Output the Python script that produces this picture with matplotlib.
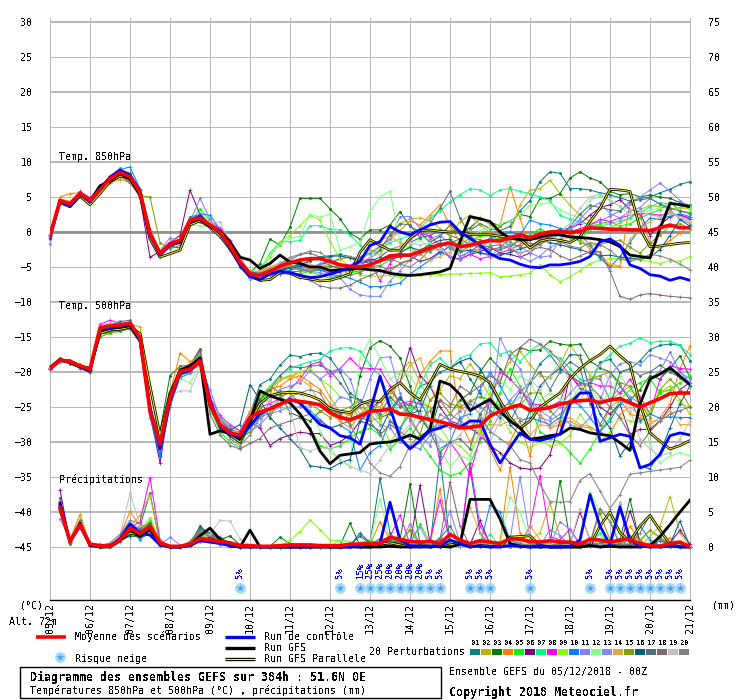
import numpy as np
import matplotlib
matplotlib.use("Agg")
import matplotlib.pyplot as plt
from matplotlib.patches import Rectangle

plt.rcParams["font.family"] = ["DejaVu Sans Mono"]
plt.rcParams["text.antialiased"] = False

STEP_H = 6
DAY_LABELS = ["05/12","06/12","07/12","08/12","09/12","10/12","11/12","12/12","13/12",
              "14/12","15/12","16/12","17/12","18/12","19/12","20/12","21/12"]

MEMBER_COLORS = ["#008080","#b8b800","#008000","#ff8000","#00ff00","#800080","#00ff80","#ff00ff",
                 "#80ff00","#0080ff","#8080ff","#80ff80","#8088ff","#e0a840","#80a000","#006080",
                 "#507080","#806870","#c0c0c0","#808080"]

# Temperature at 850 hPa (deg C), one value every 6 h
t850_mean = [-0.5,4.5,4.0,5.5,4.5,6.0,7.6,8.5,7.9,5.7,-0.2,-3.1,-1.7,-1.2,1.7,2.0,1.0,0.0,-1.9,-4.3,-6.0,
 -6.2,-5.6,-4.9,-4.4,-4.0,-3.8,-3.8,-4.2,-4.7,-4.9,-5.0,-4.7,-4.1,-3.4,-3.3,-3.3,-2.8,-2.3,-1.8,-1.6,-2.1,-1.9,
 -1.5,-1.2,-1.3,-0.8,-0.4,-0.8,-0.3,0.0,0.1,-0.1,0.1,0.6,0.5,0.4,0.4,0.3,0.3,0.2,0.6,1.0,0.6,0.6]
t850_control = [-0.8,4.4,3.7,5.4,4.3,6.2,7.8,8.8,8.1,5.9,-0.5,-3.3,-1.9,-1.4,1.5,2.2,0.9,-0.2,-2.2,-4.6,-6.4,
 -6.8,-6.0,-5.6,-5.8,-6.2,-6.5,-6.4,-6.0,-5.6,-5.0,-4.2,-1.9,-1.4,0.8,0.0,-0.4,0.3,1.0,1.4,1.5,0.0,-0.9,
 -1.9,-3.1,-3.8,-4.0,-4.6,-5.0,-5.1,-4.7,-4.7,-4.5,-4.2,-3.5,-1.4,-1.0,-1.9,-4.7,-5.2,-6.1,-6.3,-6.9,-6.5,-6.9]
t850_gfs = [-0.4,4.3,3.9,5.3,4.4,6.6,7.3,8.3,7.6,5.5,-0.1,-3.0,-1.8,-1.5,1.4,1.8,0.8,0.2,-1.4,-3.6,-4.0,
 -5.2,-4.5,-3.3,-4.3,-4.5,-5.0,-5.0,-5.5,-5.4,-5.3,-5.2,-5.4,-5.5,-5.9,-6.1,-6.2,-6.1,-5.9,-5.7,-5.2,-1.4,2.2,
 1.9,1.5,0.0,-0.9,-1.1,-1.1,-0.7,-0.4,-0.4,-0.7,-0.8,-0.9,-1.1,-1.4,-2.1,-3.3,-3.5,-3.7,0.5,4.1,3.9,3.6]
t850_para = [-0.3,4.2,3.6,5.1,3.9,5.5,7.2,8.0,7.7,5.2,-1.0,-3.6,-3.1,-2.6,1.0,1.6,0.7,-0.6,-2.4,-4.7,-6.3,
 -6.9,-6.8,-5.8,-5.9,-6.5,-6.7,-7.0,-6.9,-6.5,-6.0,-2.9,-1.1,-1.9,-2.6,-2.6,-0.9,0.2,0.3,0.1,0.0,0.0,-0.4,
 -0.4,-0.4,-0.6,-0.7,-0.9,-2.3,-1.3,-1.0,-1.2,-1.5,-0.7,1.5,3.4,6.1,6.0,5.8,0.5,-2.1,-2.0,-1.8,-1.6,-1.5]
t850_01 = [-1.0,4.3,3.8,5.2,4.7,6.3,7.8,9.0,8.2,5.4,-0.8,-3.3,-2.0,-1.0,2.2,2.4,1.3,0.2,-2.1,-4.6,-6.5,
 -6.8,-5.9,-5.6,-5.0,-4.6,-4.2,-3.5,-3.4,-3.2,-3.5,-3.9,-4.2,-3.6,-2.5,-2.0,-1.5,-0.8,-0.5,0.3,-0.5,-1.0,0.2,
 1.2,0.5,0.2,0.8,3.0,4.5,7.2,8.6,8.4,6.2,6.2,6.0,5.6,5.3,4.9,4.4,4.8,5.0,5.6,6.1,6.8,7.2]
t850_02 = [-0.5,4.7,4.4,5.4,4.2,5.7,7.2,8.0,7.5,5.2,0.4,-2.7,-1.5,-1.3,1.2,1.6,0.7,-0.3,-1.6,-4.0,-5.6,
 -6.0,-5.2,-4.8,-4.6,-5.3,-5.6,-5.0,-4.8,-5.2,-5.8,-3.8,-2.5,-3.2,-1.0,1.2,1.9,2.0,1.6,0.5,-0.6,1.5,2.4,
 1.0,-0.1,-0.8,0.0,3.8,6.0,6.2,7.4,5.5,3.8,2.4,1.5,0.8,0.6,1.3,2.0,3.2,3.8,3.6,3.3,3.5,3.3]
t850_03 = [-0.7,4.6,4.1,5.7,4.6,6.0,7.7,8.6,7.8,5.6,-0.4,-3.2,-2.0,-2.3,1.1,2.2,0.9,0.1,-2.0,-4.5,-5.8,
 -4.5,-1.0,-1.9,0.7,4.8,4.8,4.8,3.3,1.9,-0.2,-1.0,0.3,0.3,1.0,2.9,0.8,0.0,-1.5,-0.6,1.0,-0.3,0.6,
 1.9,1.4,0.9,1.6,2.5,2.2,4.8,4.8,5.5,7.7,8.6,7.7,7.2,5.8,5.3,5.5,5.0,5.3,5.0,4.8,4.2,3.8]
t850_04 = [-0.6,5.0,5.5,5.6,4.8,5.8,7.0,7.6,7.0,5.3,-0.2,-3.3,-1.6,-1.0,1.9,2.5,1.4,0.5,-1.3,-3.9,-5.6,
 -5.8,-5.0,-4.8,-4.5,-4.3,-4.6,-5.2,-5.6,-5.8,-5.5,-4.0,-3.0,-2.2,-1.0,0.2,1.6,1.0,2.4,3.9,0.8,-1.4,-2.9,
 -2.5,-1.0,1.0,6.5,2.0,-2.6,-1.2,-0.5,0.5,-0.4,-0.9,-2.5,-3.6,-4.8,-5.0,4.3,2.2,-1.4,-2.5,-1.2,-0.2,1.0]
t850_05 = [-0.4,4.4,4.2,5.5,4.4,6.1,7.9,8.7,8.0,5.8,0.1,-2.8,-1.6,-1.1,1.4,3.3,1.6,0.0,-2.1,-4.6,-6.1,
 -6.4,-5.5,-5.2,-5.8,-6.0,-5.6,-6.2,-6.6,-6.2,-5.9,-5.5,-5.0,-4.8,-4.0,-3.0,-2.0,-3.2,-1.6,-3.0,-2.0,-2.6,-1.2,
 -0.6,-0.5,-1.2,-2.0,-1.0,-0.4,0.5,-0.3,0.0,-0.9,-1.2,0.5,1.2,1.5,0.8,1.2,2.0,2.6,3.2,4.3,3.0,2.8]
t850_06 = [-0.8,4.5,3.9,5.6,4.5,6.2,7.5,8.3,7.4,5.0,-3.6,-2.8,-1.5,-0.5,6.0,2.5,1.2,0.4,-1.8,-4.2,-6.2,
 -6.1,-5.9,-5.4,-5.0,-4.8,-5.3,-4.6,-4.4,-3.8,-3.6,-4.5,-3.8,-4.2,-3.9,-3.5,-3.4,-4.2,-3.8,-2.8,-3.5,-3.9,-3.2,
 -2.8,-2.2,-3.0,-3.2,-3.6,-3.0,-1.5,-0.6,-0.2,0.5,1.2,2.4,3.5,3.9,4.6,3.2,2.8,-0.5,1.0,2.2,2.5,1.8]
t850_07 = [-0.6,4.3,4.0,5.3,4.2,5.9,7.6,8.4,7.7,5.6,-0.6,-3.0,-1.8,-1.4,1.3,1.8,0.8,-0.4,-2.0,-4.4,-5.9,
 -5.5,-3.0,-1.4,-1.4,-1.2,0.9,0.9,0.4,0.3,-0.4,-1.9,-3.3,-2.5,-1.5,-1.0,-0.5,0.5,2.0,3.0,4.3,5.3,6.2,
 6.0,5.2,6.0,6.2,5.8,5.5,5.0,4.5,2.4,1.8,1.5,1.0,0.8,1.2,1.6,2.0,2.8,3.6,4.2,4.0,3.8,3.7]
t850_08 = [-0.5,4.6,4.2,5.8,4.9,6.4,8.0,8.6,7.9,5.5,0.0,-2.9,-1.4,-1.3,1.6,2.1,1.1,0.6,-1.2,-3.5,-6.3,
 -6.5,-6.2,-6.0,-5.7,-5.6,-5.2,-5.4,-5.8,-5.5,-5.2,-4.6,-4.0,-7.0,-4.5,-3.0,-1.0,-0.2,-0.5,-2.0,-3.6,-3.9,-3.2,
 -3.8,-3.5,-3.0,-2.5,-1.8,-0.8,-0.9,-0.6,-0.2,0.0,0.5,1.0,1.8,1.5,2.0,2.4,2.6,2.6,2.4,2.6,2.3,2.1]
t850_09 = [-0.4,4.5,4.1,5.5,4.7,5.9,7.4,8.4,7.9,5.6,0.3,-2.9,-1.7,-1.3,1.2,2.0,1.5,-0.3,-2.0,-4.1,-5.9,
 -6.0,-3.5,-1.4,-0.5,0.9,2.4,1.7,-1.4,-3.8,-5.0,-6.2,-6.3,-6.3,-6.2,-6.4,-6.2,-6.2,-6.1,-6.1,-6.0,-6.0,-5.9,
 -5.9,-5.8,-6.4,-6.3,-6.1,-5.9,-4.7,-6.1,-7.1,-6.4,-5.5,-4.5,-4.0,-3.8,-3.8,-3.9,-4.0,-4.2,-4.5,-4.1,-4.2,-3.5]
t850_10 = [-0.6,4.4,4.0,5.5,4.7,6.0,7.7,8.9,9.3,6.2,-0.9,-3.2,-1.6,-1.0,1.8,2.6,2.4,0.4,-2.0,-4.5,-6.6,
 -6.5,-5.8,-6.0,-5.4,-5.2,-5.6,-5.4,-6.0,-6.3,-6.6,-7.2,-7.8,-7.8,-7.6,-7.3,-6.0,-5.0,-4.0,-3.0,-2.0,-3.5,-2.8,
 -1.8,-0.9,-0.5,0.0,-0.4,1.7,1.2,1.0,0.5,0.4,-0.2,-2.0,-3.7,-5.0,-3.5,-1.5,0.5,2.0,1.8,2.3,2.6,2.2]
t850_11 = [-1.7,4.2,3.8,5.3,4.4,6.1,7.4,8.2,7.6,5.6,-0.3,-2.7,-0.8,-1.4,1.5,4.8,1.8,0.5,-2.3,-5.0,-6.7,
 -6.0,-5.3,-4.6,-4.2,-4.8,-5.2,-4.5,-4.2,-4.6,-4.8,-3.5,-3.0,-2.0,-1.0,2.2,2.2,0.5,-1.0,-0.4,-1.8,-3.5,-2.8,
 -3.0,-3.4,-2.4,-1.9,-2.0,-3.0,-3.6,-3.4,-1.0,0.3,1.5,1.0,1.5,2.3,3.0,4.0,5.0,6.0,7.0,5.8,4.5,3.4]
t850_12 = [-0.4,4.5,4.1,5.6,4.0,5.6,7.6,8.2,7.7,5.5,-0.1,-2.9,-1.5,-1.2,1.0,0.9,0.7,-0.1,-2.1,-4.2,-5.7,
 -5.2,-3.2,-1.8,-0.9,-0.6,2.6,2.1,2.6,-2.6,-2.1,-1.4,2.9,5.0,5.8,-1.4,-2.2,-1.0,-2.5,-2.0,-1.5,-1.2,-0.8,
 0.2,0.6,1.2,1.6,2.5,3.8,4.0,4.2,3.2,2.5,2.0,4.5,5.2,4.6,3.6,2.5,2.8,3.0,3.5,4.2,3.8,3.4]
t850_13 = [-0.5,4.4,3.9,5.4,4.5,6.0,7.7,8.7,8.1,5.9,-0.3,-3.0,-1.6,-1.0,1.7,2.3,1.2,0.3,-1.7,-4.0,-5.8,
 -6.4,-5.8,-5.0,-4.8,-5.0,-5.6,-5.8,-6.2,-6.5,-8.2,-9.0,-9.2,-9.2,-7.0,-5.5,-4.0,-3.2,-2.0,-2.6,-3.6,-4.0,-2.6,
 -2.4,-1.0,-0.4,-2.0,-3.5,-4.2,-3.4,-2.2,-1.4,0.6,1.8,3.4,4.2,2.6,2.0,3.0,3.5,4.8,4.0,3.2,1.8,1.2]
t850_14 = [-0.6,4.7,4.3,5.2,4.3,5.6,7.0,7.5,7.3,5.3,-0.5,-3.2,-1.8,-1.3,1.3,1.7,0.9,-0.1,-1.9,-4.3,-6.0,
 -5.5,-5.0,-4.4,-4.1,-4.6,-5.3,-5.0,-4.5,-3.9,-3.5,-4.2,-2.2,-1.2,-0.6,-1.5,-2.5,-3.2,-4.0,-3.5,-2.8,-1.6,0.2,
 2.1,1.0,0.2,-0.8,-1.4,-2.0,-1.6,-0.9,-1.2,-0.7,-0.5,-1.8,-3.2,-4.6,-4.8,-1.0,0.4,1.5,2.1,2.9,2.0,1.5]
t850_15 = [-0.7,4.3,4.0,5.5,4.6,5.7,7.3,8.1,7.4,5.2,5.0,-1.5,-2.4,-1.9,1.1,1.5,0.6,-0.7,-2.6,-4.8,-6.1,
 -6.3,-6.0,-5.2,-4.9,-5.5,-5.7,-5.1,-4.9,-5.0,-5.4,-5.8,-4.8,-4.0,-3.8,-4.4,-4.0,-3.0,-2.8,-2.0,-1.2,-1.8,-0.9,
 -1.1,-1.6,-0.8,-1.4,-2.2,-1.0,-0.3,-0.4,-0.1,0.2,-1.5,-1.9,-1.8,-1.4,-1.2,-2.2,-3.0,-1.6,-0.4,0.8,1.2,0.5]
t850_16 = [-0.4,4.6,4.2,5.7,4.8,6.1,7.9,8.9,8.4,6.0,0.2,-3.4,-2.1,-1.5,1.9,2.3,0.8,-0.4,-2.4,-5.0,-6.5,
 -6.6,-6.1,-5.5,-5.2,-4.9,-4.0,-3.7,-3.5,-3.4,-3.7,-4.1,-4.5,-4.0,-3.6,-3.0,-2.2,-2.6,-1.8,-1.2,-1.0,-2.8,-2.6,
 -3.0,-3.2,-3.3,-2.9,-2.4,-2.0,-1.2,-1.5,-1.8,-2.2,-2.5,-3.0,-3.4,-3.3,-3.6,-3.7,-3.9,-3.6,-2.5,-0.5,1.8,0.8]
t850_17 = [-0.6,4.4,3.9,5.4,4.5,6.3,8.0,9.1,8.0,5.8,-0.6,-3.3,-1.9,-1.1,1.8,2.1,1.1,0.2,-1.8,-3.9,-5.7,
 -5.9,-5.3,-4.8,-4.0,-3.2,-3.0,-3.6,-4.8,-5.2,-5.5,-4.8,-3.8,-2.6,-0.4,1.2,1.0,-0.8,1.2,3.4,5.8,2.0,-0.5,
 -1.8,-2.6,-2.2,-1.0,-0.5,-0.8,-1.2,-0.9,-0.4,0.8,2.6,3.8,3.5,3.2,3.0,4.4,4.6,4.8,4.0,3.4,3.0,2.6]
t850_18 = [-0.5,4.5,4.0,5.3,4.3,5.8,7.1,7.9,7.3,5.3,0.0,-3.0,-1.7,-1.2,1.6,1.9,1.0,-0.2,-1.7,-4.1,-5.8,
 -6.2,-6.0,-5.5,-5.8,-6.5,-6.9,-7.7,-8.0,-8.0,-7.6,-6.8,-6.2,-5.6,-5.2,-4.6,-4.0,-3.0,-2.5,-2.0,-1.5,-1.0,-1.8,
 -2.2,-2.0,-1.8,-2.4,-3.0,-2.6,-2.2,-2.5,-3.4,-4.0,-3.4,-2.8,-2.8,-5.6,-9.2,-9.6,-9.0,-8.8,-9.0,-9.2,-9.3,-9.4]
t850_19 = [-0.6,4.6,4.1,5.4,4.6,6.1,7.5,8.3,7.8,5.9,0.1,-3.2,-1.8,-1.0,1.9,2.2,1.5,1.4,-1.4,-3.8,-6.6,
 -6.3,-5.4,-4.3,-3.9,-4.2,-4.7,-4.8,-4.4,-4.9,-5.2,-4.5,-3.5,-3.2,-2.6,-2.0,-1.5,-1.9,-1.5,-2.4,-3.1,-2.2,-1.4,
 -1.8,-1.4,-1.2,-2.2,-2.9,-2.6,-1.8,-1.0,0.0,1.2,3.4,5.0,5.4,4.5,3.7,3.2,3.0,2.4,2.2,2.6,2.2,1.6]
t850_20 = [-0.5,4.4,3.8,5.5,4.4,6.0,7.4,8.1,7.0,5.1,-0.9,-3.5,-2.1,-1.5,1.3,1.8,1.1,-0.1,-2.2,-4.4,-5.9,
 -6.0,-5.7,-4.6,-3.6,-3.2,-2.7,-2.9,-3.9,-5.2,-6.2,-5.8,-5.0,-4.8,-5.6,-4.6,-5.0,-4.0,-2.5,-1.5,-2.4,-2.8,-2.0,
 -1.8,-2.2,-2.6,-2.0,-1.2,-1.6,-1.8,-1.0,-1.4,-2.0,-2.3,-1.5,-1.8,-2.6,-3.8,-4.2,-3.8,-3.2,-3.4,-3.9,-4.6,-5.4]

# Temperature at 500 hPa (deg C), one value every 6 h
t500_mean = [-19.5,-18.3,-18.5,-19.1,-19.6,-13.7,-13.4,-13.3,-13.0,-15.1,-25.6,-30.3,-23.7,-19.9,-19.6,-18.4,-24.6,-27.5,-28.7,-29.0,-26.5,
 -25.7,-25.3,-24.6,-24.0,-24.2,-24.4,-24.7,-25.8,-26.5,-26.8,-26.3,-25.6,-25.5,-25.3,-26.0,-26.1,-26.5,-26.8,-27.1,-27.5,-28.0,-27.9,
 -27.7,-26.3,-25.6,-25.1,-24.7,-25.5,-25.3,-25.1,-24.6,-24.3,-24.1,-24.0,-24.4,-24.0,-23.8,-24.4,-25.0,-24.4,-23.8,-23.1,-23.0,-23.0]
t500_control = [-19.6,-18.4,-18.4,-19.2,-19.8,-13.9,-13.6,-13.5,-13.2,-15.4,-25.0,-31.0,-24.2,-20.2,-19.8,-18.2,-24.0,-27.8,-28.9,-29.2,-27.7,
 -26.0,-25.2,-24.6,-23.9,-24.4,-26.0,-27.5,-28.0,-29.1,-29.4,-30.3,-25.6,-20.6,-25.1,-29.4,-31.0,-29.8,-28.4,-28.0,-27.4,-27.9,-27.0,
 -27.0,-30.3,-33.0,-30.8,-28.7,-29.6,-29.8,-29.4,-28.9,-24.6,-23.0,-23.0,-29.9,-29.4,-28.9,-29.2,-33.7,-33.2,-31.8,-29.1,-28.7,-29.0]
t500_gfs = [-19.4,-18.2,-18.6,-19.2,-19.9,-14.1,-13.8,-13.6,-13.4,-15.5,-25.3,-30.5,-23.4,-19.7,-19.2,-18.0,-28.9,-28.4,-28.8,-29.6,-27.0,
 -22.7,-23.4,-23.9,-24.4,-26.0,-28.2,-31.3,-33.1,-31.9,-31.7,-31.5,-30.3,-30.1,-30.0,-29.6,-29.0,-29.6,-28.2,-21.3,-21.8,-23.2,-25.5,
 -24.7,-23.9,-25.6,-27.0,-28.0,-29.6,-29.4,-29.1,-28.9,-28.0,-28.2,-28.7,-28.9,-29.1,-30.1,-31.2,-24.6,-21.0,-20.3,-19.4,-20.6,-21.8]
t500_para = [-19.4,-18.3,-18.7,-19.3,-19.4,-14.5,-14.0,-13.9,-13.6,-14.5,-22.0,-29.0,-23.0,-20.0,-19.0,-18.5,-24.8,-27.6,-29.0,-30.0,-27.2,
 -24.5,-23.4,-23.0,-22.9,-23.0,-23.4,-24.0,-25.2,-25.6,-25.8,-24.6,-24.1,-24.2,-22.5,-21.5,-23.0,-24.0,-21.5,-18.9,-19.6,-19.9,-20.2,
 -20.6,-21.5,-24.1,-26.5,-28.0,-27.0,-25.0,-24.0,-23.0,-21.0,-19.5,-18.4,-17.5,-16.3,-17.7,-18.9,-24.6,-28.7,-29.9,-31.0,-30.5,-29.8]
t500_01 = [-19.2,-18.0,-18.8,-19.4,-19.8,-14.2,-14.3,-13.8,-13.0,-15.5,-26.0,-32.0,-24.5,-20.5,-20.0,-17.5,-25.0,-28.0,-29.2,-30.0,-26.0,
 -21.8,-21.0,-19.0,-17.6,-17.8,-17.4,-17.3,-18.0,-20.0,-23.0,-24.0,-24.6,-26.5,-26.0,-23.8,-25.0,-22.0,-21.5,-20.0,-19.5,-18.5,-21.0,
 -23.0,-25.5,-26.5,-25.0,-22.8,-21.5,-18.8,-17.5,-19.5,-20.5,-21.5,-22.0,-18.6,-18.2,-20.0,-19.6,-18.4,-16.8,-16.2,-16.0,-16.2,-18.4]
t500_02 = [-19.5,-18.4,-18.6,-19.0,-19.4,-13.4,-13.0,-13.3,-13.2,-13.5,-22.0,-29.5,-22.8,-19.5,-19.2,-18.6,-23.8,-26.8,-28.0,-28.8,-26.2,
 -23.0,-22.8,-21.0,-20.8,-20.0,-19.8,-21.0,-23.6,-25.8,-26.2,-25.0,-27.0,-26.5,-25.2,-20.0,-18.5,-21.5,-24.0,-22.5,-20.5,-21.0,-18.8,
 -21.0,-23.5,-21.0,-18.5,-17.0,-19.0,-20.5,-20.8,-19.0,-16.0,-18.2,-20.5,-21.0,-24.0,-23.0,-22.0,-24.8,-25.8,-23.0,-22.0,-24.0,-26.0]
t500_03 = [-19.3,-18.2,-18.5,-19.2,-19.5,-14.5,-14.4,-14.2,-13.8,-15.8,-25.4,-28.5,-20.5,-19.2,-19.0,-16.7,-24.2,-27.0,-28.4,-29.3,-26.8,
 -24.0,-22.0,-23.0,-25.8,-26.4,-27.0,-25.6,-25.0,-26.0,-27.5,-20.5,-16.5,-15.5,-16.3,-18.0,-22.0,-26.5,-28.5,-24.0,-26.0,-24.0,-23.0,
 -20.0,-18.0,-19.5,-21.0,-16.5,-17.0,-16.8,-15.6,-16.0,-16.2,-16.0,-18.4,-19.4,-20.0,-22.0,-24.0,-22.5,-20.5,-21.0,-19.5,-17.7,-20.8]
t500_04 = [-19.4,-18.3,-18.4,-19.1,-19.7,-13.9,-13.5,-13.2,-13.3,-14.8,-25.0,-31.0,-23.0,-17.3,-18.5,-18.0,-24.5,-27.0,-28.2,-28.6,-25.5,
 -23.5,-22.5,-22.0,-21.0,-20.5,-21.5,-22.5,-24.5,-27.0,-26.0,-25.0,-25.5,-24.0,-27.0,-28.5,-24.5,-20.5,-18.5,-17.0,-17.0,-27.0,-30.0,
 -28.0,-31.0,-34.0,-30.0,-27.0,-32.0,-26.0,-28.0,-27.5,-27.0,-27.8,-28.0,-28.5,-25.0,-24.0,-26.0,-26.5,-27.5,-26.5,-24.5,-19.5,-16.3]
t500_05 = [-19.5,-18.2,-18.7,-19.4,-19.9,-14.0,-13.7,-13.7,-13.4,-15.2,-25.2,-30.0,-23.3,-19.8,-19.3,-17.9,-25.2,-28.5,-30.0,-30.8,-27.5,
 -24.0,-23.2,-23.4,-24.5,-26.0,-28.0,-30.5,-31.0,-30.5,-29.5,-28.5,-28.0,-29.0,-31.0,-29.5,-28.0,-30.0,-32.0,-34.0,-34.8,-34.4,-33.0,
 -30.0,-27.0,-23.0,-19.5,-22.0,-25.0,-28.5,-29.5,-30.0,-31.5,-33.0,-31.0,-28.5,-26.5,-24.0,-22.5,-21.5,-21.0,-23.0,-22.5,-21.5,-20.5]
t500_06 = [-19.6,-18.5,-18.4,-19.3,-19.7,-14.2,-13.9,-13.4,-13.1,-15.0,-26.0,-33.0,-24.0,-20.3,-20.0,-18.8,-24.8,-27.4,-28.5,-29.4,-27.2,
 -28.0,-30.5,-29.5,-29.0,-28.6,-28.8,-28.8,-30.5,-30.0,-29.0,-27.0,-25.5,-24.0,-23.0,-21.5,-16.5,-20.5,-22.0,-25.0,-27.0,-27.5,-28.0,
 -29.0,-30.5,-31.5,-33.0,-33.7,-33.9,-33.7,-31.8,-27.0,-20.4,-22.3,-23.0,-25.0,-26.0,-24.6,-28.9,-28.2,-28.2,-27.0,-25.0,-22.5,-21.5]
t500_07 = [-19.5,-18.4,-18.5,-19.0,-19.6,-13.8,-13.4,-13.4,-13.3,-15.4,-25.5,-30.5,-23.5,-20.0,-19.5,-18.2,-24.4,-26.5,-27.8,-28.4,-26.0,
 -25.0,-22.0,-20.5,-19.5,-19.0,-18.5,-18.2,-17.0,-16.6,-16.5,-17.0,-19.0,-20.5,-24.0,-26.0,-25.0,-22.0,-19.0,-18.0,-19.5,-18.0,-17.5,
 -16.0,-15.8,-17.5,-17.0,-18.5,-17.0,-16.0,-17.5,-18.0,-19.5,-21.0,-21.5,-19.0,-17.5,-16.3,-15.9,-15.1,-15.8,-15.6,-15.6,-16.2,-17.5]
t500_08 = [-19.4,-18.3,-18.7,-19.2,-19.7,-13.2,-12.6,-13.1,-13.2,-15.0,-25.6,-31.2,-24.0,-20.1,-19.4,-17.8,-23.6,-26.2,-27.5,-28.4,-25.8,
 -25.0,-24.5,-23.8,-22.5,-21.0,-19.0,-18.5,-20.5,-19.5,-18.0,-19.4,-19.5,-19.6,-22.0,-24.5,-24.2,-24.5,-25.0,-33.0,-30.0,-32.0,-34.6,
 -29.4,-24.0,-20.0,-21.0,-22.5,-24.5,-24.7,-24.9,-24.2,-20.5,-22.0,-21.5,-22.0,-22.0,-23.0,-21.0,-23.5,-26.0,-21.0,-19.1,-19.5,-19.6]
t500_09 = [-19.5,-18.4,-18.3,-18.9,-19.5,-14.0,-13.8,-13.0,-13.4,-15.6,-26.0,-31.0,-23.6,-20.5,-19.9,-17.2,-25.0,-27.5,-28.8,-29.8,-26.4,
 -23.5,-22.0,-21.2,-20.5,-20.0,-19.5,-21.0,-22.0,-23.5,-24.0,-26.0,-25.0,-27.0,-30.0,-28.0,-25.5,-24.0,-25.0,-28.0,-30.0,-30.5,-32.0,
 -28.5,-23.0,-26.0,-28.5,-30.0,-30.8,-30.0,-30.5,-30.2,-29.0,-26.0,-28.0,-30.0,-28.5,-26.5,-27.0,-27.2,-25.5,-22.5,-23.0,-24.5,-25.0]
t500_10 = [-19.6,-18.1,-18.6,-19.1,-19.8,-13.9,-13.5,-13.6,-13.5,-15.3,-26.5,-32.0,-25.0,-20.8,-20.2,-18.3,-24.2,-27.2,-28.6,-30.0,-28.0,
 -26.5,-25.0,-24.5,-24.0,-24.5,-25.5,-26.8,-28.0,-27.6,-28.5,-34.0,-31.5,-30.5,-27.0,-28.0,-26.0,-24.0,-27.0,-31.0,-30.0,-26.5,-26.0,
 -22.5,-20.0,-22.0,-24.5,-27.0,-26.5,-27.0,-27.5,-26.5,-24.0,-24.8,-26.5,-28.5,-27.0,-24.5,-23.8,-27.0,-26.0,-26.6,-26.4,-26.5,-26.5]
t500_11 = [-19.3,-18.5,-18.5,-19.3,-19.6,-13.6,-13.4,-12.7,-13.1,-15.2,-25.4,-30.2,-23.2,-20.0,-20.0,-19.0,-22.5,-26.5,-28.0,-29.5,-28.5,
 -27.5,-24.0,-22.5,-22.0,-21.5,-19.8,-21.0,-20.0,-19.5,-21.0,-25.0,-21.0,-18.0,-17.8,-23.0,-27.0,-29.0,-30.5,-26.0,-27.0,-25.5,-24.5,
 -26.0,-28.5,-26.0,-24.0,-22.5,-24.0,-25.5,-26.5,-25.0,-23.0,-21.5,-21.0,-21.0,-24.0,-22.0,-23.5,-24.5,-21.0,-19.8,-17.2,-20.0,-21.5]
t500_12 = [-19.4,-18.4,-18.7,-19.4,-20.0,-14.8,-14.6,-14.0,-13.4,-15.0,-25.0,-29.8,-22.6,-21.0,-21.5,-19.0,-25.0,-27.6,-28.6,-29.2,-26.5,
 -26.0,-25.0,-24.0,-22.5,-23.0,-25.0,-28.5,-31.5,-32.5,-33.5,-18.0,-15.3,-18.0,-21.0,-20.0,-20.5,-23.0,-26.5,-31.0,-33.5,-32.0,-32.5,
 -25.0,-22.0,-21.0,-22.5,-20.5,-21.5,-24.0,-23.0,-23.8,-24.5,-22.0,-22.0,-24.5,-23.0,-20.5,-22.5,-24.0,-30.5,-33.0,-32.0,-31.5,-32.0]
t500_13 = [-19.5,-18.3,-18.4,-19.1,-19.7,-13.7,-13.3,-13.1,-13.0,-15.1,-25.5,-31.0,-24.0,-20.2,-19.7,-17.5,-24.5,-27.3,-28.7,-29.5,-27.0,
 -27.5,-26.0,-25.5,-25.0,-25.0,-24.8,-24.5,-25.5,-23.5,-24.0,-27.0,-26.0,-27.5,-28.0,-30.0,-30.5,-31.0,-29.0,-27.5,-28.0,-27.5,-24.0,
 -25.0,-26.0,-15.1,-18.0,-19.5,-24.0,-26.5,-27.0,-26.0,-27.5,-28.0,-26.5,-24.0,-20.5,-18.8,-18.5,-19.0,-17.5,-18.0,-18.5,-20.0,-21.0]
t500_14 = [-19.5,-18.2,-18.5,-19.2,-19.5,-14.0,-13.7,-13.6,-13.5,-15.4,-25.8,-29.0,-23.0,-19.4,-19.0,-18.5,-24.7,-27.6,-28.9,-29.1,-25.6,
 -24.0,-24.2,-21.0,-20.5,-21.0,-22.0,-24.5,-26.0,-27.0,-28.0,-26.0,-24.5,-25.0,-23.0,-21.5,-19.0,-18.0,-22.0,-24.0,-26.0,-24.5,-27.0,
 -28.0,-27.5,-27.6,-27.0,-26.5,-29.0,-27.5,-27.8,-27.0,-26.5,-27.5,-27.8,-28.8,-29.2,-26.0,-25.0,-26.2,-27.0,-27.0,-25.5,-27.5,-27.5]
t500_15 = [-19.4,-18.5,-18.6,-19.3,-19.8,-15.0,-14.4,-14.0,-13.8,-15.6,-26.2,-30.6,-23.8,-20.5,-19.5,-17.0,-24.9,-27.9,-28.8,-29.7,-28.5,
 -25.0,-26.5,-23.5,-23.0,-24.5,-24.5,-25.5,-26.5,-25.5,-25.0,-24.0,-26.5,-24.0,-22.5,-24.5,-26.5,-29.0,-24.0,-23.0,-24.5,-25.0,-24.2,
 -23.5,-24.0,-25.0,-24.5,-24.8,-23.0,-23.0,-25.5,-27.0,-24.0,-23.0,-21.0,-20.5,-20.0,-21.5,-22.0,-24.5,-26.5,-22.5,-21.0,-22.5,-25.0]
t500_16 = [-19.6,-18.3,-18.6,-19.0,-19.7,-14.3,-13.8,-13.2,-13.1,-15.2,-25.6,-29.6,-23.0,-20.1,-19.6,-18.6,-24.4,-27.0,-28.3,-27.5,-21.8,
 -24.0,-26.5,-28.0,-29.5,-31.0,-33.4,-33.6,-33.8,-33.0,-32.5,-27.0,-27.5,-28.5,-25.5,-23.5,-26.0,-25.5,-22.0,-19.0,-19.5,-18.5,-18.0,
 -19.5,-22.0,-24.5,-27.5,-29.0,-25.5,-22.0,-20.5,-19.5,-17.5,-17.6,-22.5,-26.0,-28.0,-32.0,-30.0,-33.5,-33.8,-31.5,-28.0,-24.5,-22.0]
t500_17 = [-19.5,-18.1,-18.4,-19.2,-19.5,-13.8,-13.4,-12.8,-12.6,-15.0,-25.3,-30.4,-23.6,-19.7,-19.3,-18.2,-25.0,-28.0,-28.9,-29.3,-26.8,
 -24.0,-22.5,-20.5,-19.2,-19.4,-19.2,-19.0,-19.8,-21.5,-23.5,-24.0,-25.0,-26.0,-23.5,-25.0,-24.5,-26.0,-28.5,-31.5,-30.0,-29.5,-31.0,
 -26.0,-24.0,-25.5,-27.0,-24.5,-21.5,-20.0,-22.5,-20.0,-18.5,-19.5,-24.5,-27.5,-25.0,-20.0,-19.5,-20.5,-20.0,-19.0,-20.0,-20.8,-22.0]
t500_18 = [-19.4,-18.4,-18.7,-19.5,-20.1,-14.4,-14.0,-13.8,-13.2,-15.3,-25.7,-30.6,-24.0,-20.4,-19.9,-16.8,-26.0,-29.0,-30.5,-31.0,-30.2,
 -29.5,-28.0,-27.5,-27.0,-26.5,-26.0,-27.0,-28.0,-27.5,-27.0,-26.5,-27.0,-29.0,-27.5,-28.5,-29.5,-27.0,-25.5,-24.0,-25.0,-22.0,-23.0,
 -22.0,-20.5,-21.5,-17.5,-16.5,-15.3,-16.0,-17.0,-18.5,-20.5,-21.5,-22.0,-23.5,-25.0,-26.5,-29.0,-30.5,-28.5,-27.0,-26.0,-25.5,-25.0]
t500_19 = [-19.6,-18.6,-18.5,-19.2,-19.6,-13.5,-13.1,-13.3,-13.4,-14.9,-24.8,-29.4,-23.4,-22.7,-22.7,-19.4,-23.9,-27.0,-28.6,-28.8,-26.5,
 -24.5,-24.0,-25.0,-25.5,-30.8,-31.3,-30.8,-31.0,-32.5,-33.5,-34.0,-34.5,-32.5,-30.5,-29.0,-27.5,-26.0,-28.0,-29.5,-30.5,-29.0,-27.0,
 -29.0,-30.0,-27.0,-25.0,-23.5,-21.0,-22.5,-20.5,-18.5,-21.5,-24.5,-20.5,-19.0,-21.5,-23.5,-25.5,-29.5,-31.0,-32.0,-31.5,-29.5,-27.0]
t500_20 = [-19.5,-18.2,-18.5,-19.3,-19.9,-14.1,-13.6,-13.4,-13.3,-15.2,-25.5,-30.8,-23.8,-20.0,-19.6,-17.9,-24.6,-27.7,-29.5,-30.5,-29.0,
 -26.5,-25.8,-25.0,-23.5,-23.0,-22.5,-23.0,-25.5,-26.0,-27.5,-30.0,-33.0,-34.4,-34.9,-33.5,-30.5,-29.0,-28.5,-27.0,-26.0,-27.0,-28.0,
 -26.5,-28.5,-29.5,-30.5,-32.5,-33.0,-36.0,-38.5,-38.6,-38.5,-35.5,-34.5,-37.0,-39.5,-37.5,-34.6,-34.4,-34.2,-34.0,-33.8,-33.6,-32.6]

# Precipitation (mm), one value every 6 h from the first step on
rr_mean = [5.6,0.8,3.2,0.4,0.2,0.1,1.0,2.7,1.9,3.0,0.6,0.1,0.1,0.4,1.2,1.0,0.8,0.6,0.2,0.2,
 0.1,0.1,0.2,0.3,0.3,0.3,0.2,0.2,0.2,0.4,0.4,0.5,0.5,1.4,1.1,0.8,0.7,0.8,0.5,1.8,1.0,0.5,
 0.9,0.7,0.5,1.2,1.1,0.8,0.7,0.9,0.7,0.7,0.4,1.1,1.0,0.7,1.0,1.1,0.5,0.2,0.1,0.5,0.7,0.0]
rr_control = [6.0,0.8,3.0,0.3,0.0,0.1,1.2,3.3,2.0,1.7,0.3,0.0,0.0,0.2,0.9,0.7,0.5,0.2,0.0,0.0,
 0.0,0.0,0.0,0.0,0.0,0.0,0.0,0.0,0.0,0.0,0.2,0.4,0.5,6.4,1.0,0.2,0.1,0.1,0.2,1.0,0.5,0.1,
 0.1,0.0,0.0,0.2,0.1,0.0,0.2,0.0,0.0,0.1,1.0,7.5,3.0,0.3,5.7,1.0,0.1,0.0,0.0,0.1,0.0,0.0]
rr_gfs = [6.2,0.7,3.4,0.2,0.0,0.0,0.9,2.5,1.5,2.6,0.4,0.0,0.0,0.3,1.6,2.7,1.1,0.1,0.0,2.4,
 0.0,0.0,0.0,0.0,0.0,0.0,0.0,0.0,0.0,0.0,0.0,0.0,0.0,0.1,0.0,0.0,0.0,0.0,0.1,0.0,0.4,6.8,
 6.8,6.8,4.0,0.5,0.1,0.0,0.0,0.0,0.0,0.0,0.0,0.2,0.0,0.1,0.0,0.0,0.0,0.2,1.5,3.2,5.0,6.7]
rr_para = [5.4,0.9,3.0,0.4,0.0,0.2,1.0,2.0,1.6,2.5,0.3,0.0,0.0,0.2,1.0,1.2,0.7,0.3,0.0,0.0,
 0.0,0.0,0.0,0.0,0.0,0.0,0.1,0.0,0.0,0.1,0.0,0.0,0.4,0.6,0.3,0.0,0.2,0.1,0.0,0.3,0.5,0.0,
 0.2,0.1,0.0,1.4,1.5,1.6,0.2,0.0,0.0,0.0,0.0,0.2,3.0,5.0,2.0,0.8,3.0,4.5,2.4,0.4,0.0,0.0]
rr_01 = [7.0,0.7,3.3,0.3,0.1,0.2,1.2,2.2,3.0,7.7,0.5,0.0,0.0,0.2,3.0,1.6,0.6,0.2,0.0,0.0,
 0.0,0.0,0.0,0.0,0.0,0.0,0.0,0.0,0.0,0.2,1.6,0.5,9.8,2.0,0.3,0.0,0.2,0.0,13.0,0.6,0.2,11.3,
 2.0,0.0,0.5,0.1,0.0,0.2,0.0,0.0,0.3,0.2,0.0,0.4,0.2,0.1,1.0,0.2,0.0,0.0,0.1,0.0,0.0,0.0]
rr_02 = [5.5,0.9,3.6,0.3,0.0,0.2,1.0,3.0,4.5,7.5,0.6,0.0,0.0,0.2,1.0,1.3,0.5,0.3,0.0,0.0,
 0.0,0.0,0.0,0.0,0.0,0.0,0.0,0.1,0.0,0.2,0.0,0.0,0.5,0.8,0.2,2.6,0.4,0.0,0.2,0.0,0.4,0.0,
 0.3,0.0,0.2,0.5,0.3,1.0,2.0,6.3,1.5,0.3,0.0,0.2,0.5,0.1,0.2,0.0,0.0,1.5,3.0,7.2,2.0,0.0]
rr_03 = [5.2,0.5,3.1,0.5,0.1,0.1,0.8,1.6,1.4,1.8,0.5,0.1,0.0,0.4,2.0,1.5,1.0,1.6,0.3,0.0,
 0.0,0.1,1.4,0.5,0.0,0.0,0.0,0.0,0.2,3.4,0.2,0.0,0.4,0.8,1.0,9.0,0.5,0.0,0.1,0.0,0.2,0.0,
 0.4,0.0,0.1,0.0,0.3,0.1,0.0,0.5,9.5,1.0,0.2,0.3,0.5,0.2,1.0,6.9,0.4,0.1,0.0,0.2,0.0,0.0]
rr_04 = [6.4,1.0,4.6,0.4,0.1,0.2,1.6,5.1,3.0,2.6,0.8,0.0,0.0,0.3,1.2,1.4,0.7,0.4,0.0,0.0,
 0.0,0.0,0.1,0.0,0.2,0.1,0.0,0.0,0.2,0.1,0.0,0.3,3.6,1.0,0.2,0.4,0.2,0.1,8.3,0.3,0.0,0.2,
 0.5,0.1,0.8,11.4,2.0,0.2,0.3,0.1,0.0,0.2,0.0,0.1,0.2,0.0,0.2,3.0,0.8,0.1,0.2,1.3,0.2,0.0]
rr_05 = [5.8,0.8,3.0,0.5,0.2,0.0,1.0,2.4,1.8,3.8,1.0,0.0,0.0,0.5,1.6,1.9,1.0,0.6,0.0,0.0,
 0.0,0.0,0.0,0.1,0.0,0.0,0.1,0.2,0.0,0.1,0.6,1.0,0.5,1.2,0.2,0.4,3.3,0.6,0.0,0.8,0.5,0.1,
 0.3,0.8,0.2,1.6,0.6,0.0,0.2,0.4,0.1,0.2,0.3,0.1,0.2,0.5,0.3,0.6,0.4,0.2,0.0,0.1,0.3,0.0]
rr_06 = [8.2,0.6,3.2,0.2,0.1,0.3,1.1,3.2,2.2,2.8,0.4,0.0,0.0,0.3,1.4,0.9,0.6,0.3,0.1,0.0,
 0.0,0.0,0.0,0.0,0.0,0.1,0.0,0.0,0.1,0.2,0.1,0.4,0.7,0.8,0.5,0.4,8.8,0.6,0.0,0.5,0.2,0.3,
 3.8,0.4,0.1,0.3,0.2,0.0,0.1,0.2,0.4,0.5,5.0,1.0,0.2,0.3,0.1,5.2,0.8,0.0,0.2,0.6,2.4,0.4]
rr_07 = [5.0,1.0,3.4,0.6,0.1,0.0,0.9,2.2,2.0,3.4,0.7,0.0,0.1,0.4,1.6,1.1,0.8,0.5,0.0,0.0,
 0.1,0.0,0.0,0.3,0.2,0.1,0.0,0.3,0.0,0.1,0.2,0.4,0.6,1.6,0.4,0.2,0.3,0.6,0.2,2.0,0.4,0.3,
 0.5,1.8,0.2,1.0,0.5,0.2,0.6,0.4,0.2,0.1,0.3,0.5,2.0,0.2,1.2,0.8,0.3,0.6,0.2,0.1,0.4,0.0]
rr_08 = [6.6,0.7,3.5,0.3,0.2,0.1,1.4,2.8,3.6,9.9,1.0,0.0,0.0,0.2,1.0,1.2,0.6,0.2,0.0,0.0,
 0.0,0.0,0.0,0.0,0.1,0.0,0.2,0.1,0.0,0.3,0.2,0.5,1.0,1.4,4.6,0.4,0.2,1.0,6.7,1.0,0.3,12.0,
 3.0,0.6,0.2,0.4,0.3,3.0,10.2,1.5,1.0,2.6,0.4,0.2,0.1,0.3,0.1,0.4,0.2,0.1,0.3,0.4,0.2,0.0]
rr_09 = [5.7,0.9,3.1,0.4,0.1,0.2,1.3,2.6,2.4,4.2,0.8,0.1,0.0,0.2,1.3,1.2,0.5,0.4,0.1,0.0,
 0.0,0.0,0.1,1.0,2.2,3.9,2.5,1.0,0.9,0.7,0.5,0.3,1.2,0.9,0.5,0.6,0.2,0.4,0.2,0.6,0.3,0.2,
 0.1,0.3,0.5,0.2,0.3,0.2,0.4,0.2,0.6,0.2,0.5,0.3,1.0,0.4,0.6,0.3,0.7,2.4,1.2,0.5,0.2,0.0]
rr_10 = [5.3,1.0,2.9,0.6,0.0,0.0,0.7,2.5,1.0,2.3,0.2,0.0,0.0,0.6,1.5,1.3,0.9,0.3,0.0,0.0,
 0.0,0.0,0.0,0.0,0.0,0.0,0.1,0.0,0.0,0.0,0.2,0.3,1.2,0.4,0.2,0.5,0.1,0.3,0.7,0.4,0.1,0.2,
 0.1,6.0,5.0,1.0,0.4,0.2,0.1,0.2,0.3,0.1,0.4,0.2,0.3,0.5,0.2,0.1,3.0,1.0,0.2,0.1,0.0,0.0]
rr_11 = [4.0,1.1,3.3,0.2,0.0,0.1,1.2,2.0,1.6,2.2,0.3,1.4,0.3,0.3,0.7,0.8,0.3,0.1,0.0,0.0,
 0.0,0.0,0.0,0.0,0.1,0.0,0.0,0.0,0.1,0.0,0.0,0.2,0.4,0.6,0.3,3.3,0.4,0.1,1.0,5.2,0.6,0.2,
 0.3,0.1,0.6,1.0,10.0,1.2,0.4,0.2,3.6,2.5,0.3,0.2,0.1,0.3,0.5,0.2,0.1,0.0,0.2,0.1,0.0,0.0]
rr_12 = [5.9,0.8,3.2,0.5,0.2,0.1,1.0,2.9,2.0,2.7,0.5,0.0,0.0,0.2,1.1,1.5,1.0,0.4,0.1,0.0,
 0.0,0.0,0.0,0.0,0.0,0.2,0.1,0.1,1.0,0.8,0.4,0.6,6.9,0.8,0.3,0.2,0.5,0.1,0.4,0.2,0.3,0.1,
 0.2,0.4,0.3,7.2,5.0,1.0,0.2,0.4,0.3,0.1,1.0,7.9,5.0,4.0,0.6,0.2,0.4,0.3,0.2,0.1,0.1,0.0]
rr_13 = [6.1,0.7,3.0,0.3,0.1,0.3,1.5,3.5,2.5,3.2,0.6,0.2,0.0,0.3,1.4,1.0,0.8,0.3,0.0,0.0,
 0.0,0.0,0.0,0.0,0.0,0.1,0.0,0.0,0.1,0.0,0.1,0.2,0.5,0.3,0.2,0.8,2.8,0.2,0.1,0.3,0.2,0.4,
 0.3,0.2,0.1,0.3,0.2,0.4,0.1,2.5,1.6,0.2,0.8,0.3,0.2,0.4,0.6,0.3,0.2,0.1,0.2,0.3,0.1,0.0]
rr_14 = [5.6,1.1,4.7,0.4,0.1,0.0,1.2,2.4,2.8,2.0,0.5,0.0,0.0,0.2,1.7,1.4,0.6,0.2,0.0,0.0,
 0.0,0.0,0.0,0.1,0.0,0.0,0.0,0.0,0.0,0.2,0.4,0.3,1.0,6.0,0.5,0.2,0.3,0.2,0.5,0.2,0.4,5.7,
 2.0,0.4,0.1,0.2,0.3,3.1,1.0,0.2,0.4,0.1,0.6,0.2,0.3,0.8,0.4,0.2,0.3,0.5,1.4,0.3,0.1,0.0]
rr_15 = [5.0,0.6,2.8,0.3,0.0,0.1,0.9,1.9,1.4,3.4,0.4,0.0,0.0,0.2,2.2,1.6,1.0,0.5,0.1,0.0,
 0.0,0.0,0.0,0.0,0.0,0.0,0.0,0.1,0.0,0.0,0.2,0.1,0.3,1.5,0.6,2.4,0.3,0.1,0.4,0.3,0.2,0.1,
 0.0,0.2,0.1,0.6,0.4,0.2,0.1,0.3,0.2,0.4,0.1,0.6,4.8,1.0,0.5,1.6,1.0,2.4,1.4,0.3,0.2,0.0]
rr_16 = [5.9,0.8,3.0,0.4,0.2,0.3,1.1,1.6,2.4,2.9,0.5,0.1,0.0,0.5,2.8,2.0,1.4,0.5,0.0,0.0,
 0.0,0.0,0.1,0.0,0.0,0.0,0.1,0.0,0.1,0.2,2.0,0.6,0.4,0.3,1.0,0.2,0.1,0.3,0.6,0.9,0.4,0.2,
 0.3,0.2,0.4,0.1,0.2,0.1,0.2,0.3,0.2,0.1,0.3,0.5,0.2,0.4,0.3,0.2,0.6,0.1,0.9,0.4,3.7,0.0]
rr_17 = [6.3,0.9,3.8,0.5,0.1,0.2,1.3,3.0,2.6,3.5,0.6,0.0,0.0,0.4,2.5,1.8,1.2,0.4,0.0,0.0,
 0.0,0.0,0.0,0.0,0.0,0.0,0.0,0.0,0.0,0.1,0.2,0.3,0.4,1.0,0.6,0.4,0.3,0.2,1.2,3.0,0.5,0.1,
 0.2,0.3,0.2,0.1,0.3,0.2,0.1,0.2,0.5,0.3,0.2,0.1,0.6,0.8,6.2,0.4,0.3,0.2,0.1,0.2,0.1,0.0]
rr_18 = [5.5,0.7,3.3,0.3,0.4,0.2,1.0,2.3,1.8,2.4,0.3,0.0,0.1,0.8,2.6,1.8,0.8,0.3,0.0,0.0,
 0.0,0.0,0.0,0.0,0.1,0.0,0.0,0.0,0.1,0.2,0.6,0.3,0.4,0.2,0.8,0.5,0.2,0.3,1.0,9.3,3.0,0.2,
 0.1,0.2,0.3,0.1,0.2,0.4,0.2,0.1,0.3,0.2,0.4,0.6,5.5,3.6,0.2,0.4,2.0,4.6,2.5,0.2,0.1,0.0]
rr_19 = [5.7,0.9,3.2,0.6,0.3,0.5,1.6,7.7,3.2,2.2,0.5,0.2,0.1,0.4,1.5,1.8,3.8,3.7,1.2,0.2,
 0.0,0.0,0.0,0.0,0.1,0.0,0.0,0.0,0.0,0.1,0.2,0.4,0.6,0.3,0.2,0.4,0.3,0.6,0.5,0.3,0.2,0.4,
 0.3,0.5,0.2,0.3,0.1,0.4,0.6,0.3,0.2,0.4,5.5,0.8,0.4,0.6,6.5,0.9,0.3,0.2,0.1,0.3,0.2,0.0]
rr_20 = [5.4,1.0,3.7,0.5,0.2,0.6,1.8,3.8,3.4,2.1,0.4,0.1,0.0,0.6,2.3,1.4,1.0,0.5,0.1,0.0,
 0.0,0.0,0.0,0.0,0.2,0.1,0.3,0.2,0.0,0.1,0.6,0.4,0.2,0.5,0.3,0.2,0.6,0.2,1.4,0.4,0.3,0.2,
 0.4,0.2,0.3,0.1,0.2,0.5,0.3,0.2,0.1,0.3,0.2,0.4,0.6,0.2,0.3,0.1,0.5,0.2,1.2,0.3,0.2,0.0]

T850_MEMBERS = [t850_01,t850_02,t850_03,t850_04,t850_05,t850_06,t850_07,t850_08,t850_09,t850_10,
                t850_11,t850_12,t850_13,t850_14,t850_15,t850_16,t850_17,t850_18,t850_19,t850_20]
T500_MEMBERS = [t500_01,t500_02,t500_03,t500_04,t500_05,t500_06,t500_07,t500_08,t500_09,t500_10,
                t500_11,t500_12,t500_13,t500_14,t500_15,t500_16,t500_17,t500_18,t500_19,t500_20]
RR_MEMBERS = [rr_01,rr_02,rr_03,rr_04,rr_05,rr_06,rr_07,rr_08,rr_09,rr_10,
              rr_11,rr_12,rr_13,rr_14,rr_15,rr_16,rr_17,rr_18,rr_19,rr_20]

# Snow risk: lead time (h) and probability (%)
snow_hours = [114,174,186,192,198,204,210,216,222,228,234,252,258,264,288,324,336,342,348,354,360,366,372,378]
snow_probs = [5,5,15,25,25,20,20,20,20,5,5,5,5,5,5,5,5,5,5,5,5,5,5,5]

RR_ZERO = -45  # the mm scale starts at this position of the deg C scale

W, H = 740, 700
fig = plt.figure(figsize=(W / 100, H / 100), dpi=100, facecolor="white")


def fx(x):
    return x / W


def fy(y):
    return 1 - y / H


def label(x, y, s, size=7.2, **kw):
    kw.setdefault("va", "center")
    kw.setdefault("ha", "left")
    fig.text(fx(x), fy(y), s, fontsize=size, color=kw.pop("color", "black"), **kw)


ax = fig.add_axes([fx(50), fy(600), 640 / W, 582 / H])
ax.set_xlim(0, 384)
ax.set_ylim(-368 / 7, 214 / 7)
for name, spine in ax.spines.items():
    spine.set_visible(name == "bottom")
ax.spines["bottom"].set_linewidth(1.0)

ax.set_xticks(np.arange(len(DAY_LABELS)) * 24)
ax.set_xticklabels(DAY_LABELS, rotation=90, fontsize=7.2)
ax.tick_params(axis="x", length=0, pad=2)
ax.set_yticks(np.arange(-45, 31, 5))
ax.tick_params(axis="y", length=0, pad=12.5, labelsize=7.2)

axr = ax.twinx()
axr.set_ylim(ax.get_ylim()[0] - RR_ZERO, ax.get_ylim()[1] - RR_ZERO)
axr.set_yticks(np.arange(0, 76, 5))
axr.tick_params(axis="y", length=0, pad=13, labelsize=7.2)
for spine in axr.spines.values():
    spine.set_visible(False)
ax.set_zorder(axr.get_zorder() + 1)

GRID = "#b8b8b8"
for h in ax.get_xticks():
    ax.axvline(h, color=GRID, lw=0.7, zorder=1, clip_on=False)
for t in np.arange(-45, 31, 5):
    major = t % 10 == 0
    ax.axhline(t, color=GRID, lw=1.4 if major else 0.7, zorder=1)
ax.axhline(0, color="#909090", lw=2.0, zorder=1.5)


def hours(values, start=0):
    return start + np.arange(len(values)) * STEP_H


def draw_member(values, i, base=0.0, start=0):
    y = np.asarray(values) + base
    ax.plot(hours(values, start), y, color=MEMBER_COLORS[i], lw=0.72,
            marker="+" if i % 2 else "o", ms=3 if i % 2 else 1.5, mew=0.5,
            zorder=3, clip_on=False)


def draw_series(values, color, lw, base=0.0, start=0, z=4):
    y = np.asarray(values) + base
    ax.plot(hours(values, start), y, color=color, lw=lw, zorder=z, solid_joinstyle="round")


for i in range(20):
    draw_member(T850_MEMBERS[i], i)
    draw_member(T500_MEMBERS[i], i)
    draw_member(RR_MEMBERS[i], i, RR_ZERO, STEP_H)

# Main runs above the perturbations: parallel, GFS, control, then the mean
for vals, base, start in [(t850_para, 0, 0), (t500_para, 0, 0), (rr_para, RR_ZERO, STEP_H)]:
    draw_series(vals, "black", 1.9, base, start, 4)
    draw_series(vals, "#ffff00", 0.7, base, start, 4.1)
for vals, base, start in [(t850_gfs, 0, 0), (t500_gfs, 0, 0), (rr_gfs, RR_ZERO, STEP_H)]:
    draw_series(vals, "black", 2.0, base, start, 4.2)
for vals, base, start in [(t850_control, 0, 0), (t500_control, 0, 0), (rr_control, RR_ZERO, STEP_H)]:
    draw_series(vals, "#0000ff", 2.0, base, start, 4.3)
for vals, base, start in [(t850_mean, 0, 0), (t500_mean, 0, 0), (rr_mean, RR_ZERO, STEP_H)]:
    draw_series(vals, "#ff0000", 2.6, base, start, 5)

# Snow risk markers with their probability written vertically above
SNOW_Y = -50.9
ax.scatter(snow_hours, [SNOW_Y] * len(snow_hours), s=62, c="#a8dcff", marker="o", lw=0, zorder=3)
ax.scatter(snow_hours, [SNOW_Y] * len(snow_hours), s=34, c="#4aa0e8", marker="*", lw=0, zorder=3.1)
for h, p in zip(snow_hours, snow_probs):
    ax.text(h, -49.4, f"{p}%", rotation=90, color="#0000ff", fontsize=6.4,
            ha="center", va="bottom", zorder=3.2)

# Panel captions
label(59, 157, "Temp. 850hPa")
label(59, 306, "Temp. 500hPa")
label(59, 480, "Précipitations")

# Units and station height
label(20, 606, "(°C)")
label(712, 606, "(mm)")
label(9, 622, "Alt. 72m")

# Legend
legend_ax = fig.add_axes([0, 0, 1, 1], facecolor="none")
legend_ax.set_xlim(0, W)
legend_ax.set_ylim(H, 0)
legend_ax.axis("off")
legend_ax.plot([36, 66], [637, 637], color="#ff0000", lw=2.6, solid_capstyle="butt")
legend_ax.plot([225, 255], [637, 637], color="#0000ff", lw=2.4, solid_capstyle="butt")
legend_ax.plot([225, 255], [648, 648], color="black", lw=2.4, solid_capstyle="butt")
legend_ax.plot([225, 255], [659, 659], color="black", lw=2.4, solid_capstyle="butt")
legend_ax.plot([225, 255], [659, 659], color="#ffff00", lw=0.8, solid_capstyle="butt")
legend_ax.scatter([60], [657], s=62, c="#a8dcff", marker="o", lw=0)
legend_ax.scatter([60], [657], s=34, c="#4aa0e8", marker="*", lw=0)
label(75, 637, "Moyenne des scénarios")
label(264, 637, "Run de contrôle")
label(264, 648, "Run GFS")
label(264, 659, "Run GFS Parallele")
label(75, 659, "Risque neige")
label(369, 652, "20 Perturbations")
for i, c in enumerate(MEMBER_COLORS):
    x0 = 470 + i * 11
    legend_ax.add_patch(Rectangle((x0, 649), 10, 6, facecolor=c, edgecolor="none"))
    label(x0 + 5.5, 643, f"{i + 1:02d}", size=5.0, ha="center")

# Title box and credits
legend_ax.add_patch(Rectangle((20, 667), 421, 31, facecolor="white", edgecolor="black", lw=1.0))
label(30, 677, "Diagramme des ensembles GEFS sur 384h : 51.6N 0E", size=8.4, fontweight="bold")
label(30, 691, "Températures 850hPa et 500hPa (°C) , précipitations (mm)")
label(449, 672, "Ensemble GEFS du 05/12/2018 - 00Z")
label(449, 692, "Copyright 2018 Meteociel.fr", size=8.4, fontweight="bold")

fig.savefig("out.png", dpi=100, facecolor="white")
